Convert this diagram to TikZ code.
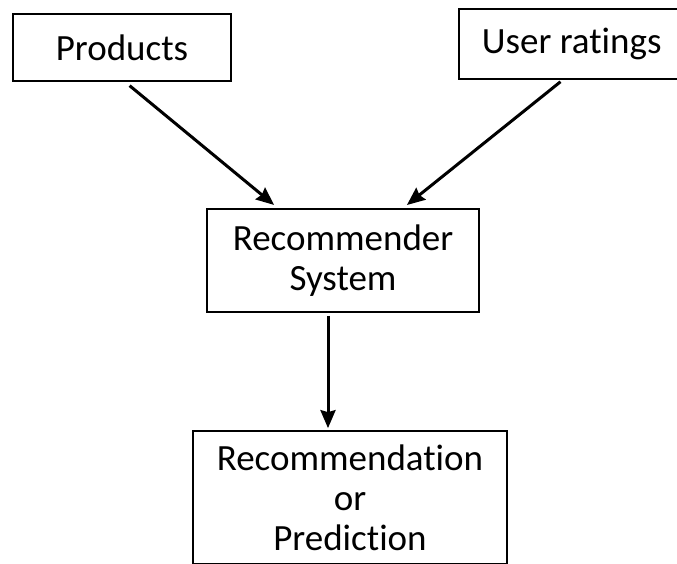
\documentclass[tikz,border=0pt]{standalone}
\usepackage{fontspec}
\setmainfont{Carlito}[Ligatures={NoCommon,NoContextual}]
\usetikzlibrary{arrows.meta}

\tikzset{
  box/.style={draw=black, line width=1.7pt, rectangle, inner sep=0pt,
    align=center, font=\fontsize{37pt}{40pt}\selectfont},
  flow/.style={line width=3pt, -{Stealth[length=18pt,width=15pt,inset=2pt]}}
}

\begin{document}
\begin{tikzpicture}[x=1pt, y=-1pt]
  \useasboundingbox (0,0) rectangle (677,563);
  \clip (0,0) rectangle (677,563);

  % inputs (the ratings box runs past the right edge)
  \node[box, minimum width=218pt, minimum height=67pt] (prod) at (122,47.5) {Products};
  \node[box, align=flush left, text width=214pt, inner xsep=23pt, minimum height=70pt,
        anchor=west] (ratings) at (458,44) {User ratings};

  % engine
  \node[box, minimum width=272pt, minimum height=103pt] (rec) at (343,260.5) {Recommender\\System};

  % output
  \node[box, minimum width=314pt, minimum height=133pt] (out) at (350,497.5) {Recommendation\\or\\Prediction};

  % connectors
  \draw[flow, shorten <=6pt, shorten >=5pt] ([xshift=3pt]prod.south) -- ([xshift=-65pt]rec.north);
  \draw[flow, shorten <=3pt, shorten >=5pt] ([xshift=-26pt]ratings.south) -- ([xshift=60pt]rec.north);
  \draw[flow, shorten <=3pt, shorten >=2pt] ([xshift=-15pt]rec.south) -- ([xshift=-22pt]out.north);
\end{tikzpicture}
\end{document}
